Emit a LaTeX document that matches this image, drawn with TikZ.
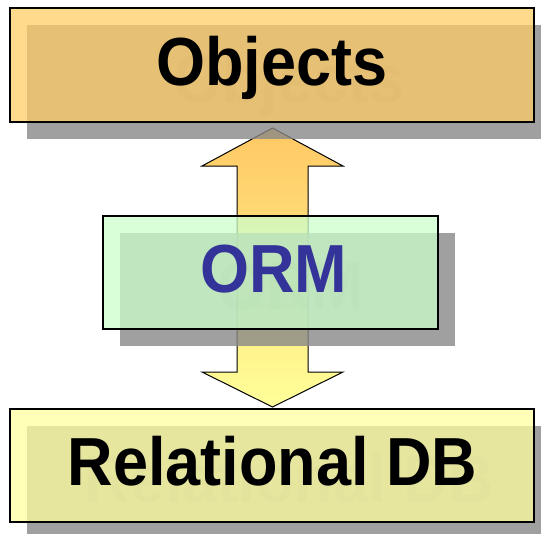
\documentclass[tikz,border=0pt]{standalone}
\usepackage{fontspec}
\setmainfont{Liberation Sans}
\usetikzlibrary{calc}

\definecolor{objfill}{RGB}{255,204,102}
\definecolor{ormfill}{RGB}{204,255,204}
\definecolor{dbfill}{RGB}{255,255,160}
\definecolor{ormtext}{RGB}{51,51,153}
\definecolor{shadowgray}{RGB}{136,136,136}
\definecolor{arrtop}{RGB}{255,200,100}
\definecolor{arrbot}{RGB}{255,255,153}

\newcommand{\tallword}[1]{\scalebox{1}[1.08]{#1}}

\pgfdeclarelayer{arrowlayer}
\pgfdeclarelayer{shadelayer}
\pgfsetlayers{arrowlayer,shadelayer,main}

\begin{document}
\begin{tikzpicture}[x=1pt, y=-1pt, blk/.style={rectangle, draw, line width=1.5pt, fill opacity=.75, inner sep=0pt, outer sep=0pt, minimum width=524pt, minimum height=113pt}, lbl/.style={anchor=base, inner sep=0pt, font=\fontsize{63}{68}\selectfont\bfseries}, shd/.style={fill=shadowgray, opacity=.8}]
	\useasboundingbox (0,0) rectangle (541,533);

	\node[blk, fill=objfill, minimum height=114pt] (obj) at (272,65) {};
	\node[lbl] (obj_label) at ($(obj.center)+(0,20.5)$) {\tallword{Objects}};
	\node[blk, fill=ormfill, minimum width=335pt] (orm) at (270.5,272.5) {};
	\node[lbl, text=ormtext] (orm_label) at ($(orm.center)+(3,19.5)$) {\tallword{ORM}};
	\node[blk, fill=dbfill] (rdb) at (272,465.5) {};
	\node[lbl] (rdb_label) at ($(rdb.center)+(0.5,19.5)$) {\tallword{Relational DB}};

	% shadows under the boxes
	\begin{pgfonlayer}{shadelayer}
		\foreach \b/\txt/\dx in {obj/Objects/0, orm/ORM/3, rdb/Relational DB/0.5} {
			\fill[shd] ($(\b.north west)+(17,17)$) rectangle ($(\b.south east)+(17,17)$);
			\node[lbl, text=black, opacity=.07] at ($(\b.center)+(\dx+17,37)$) {\tallword{\txt}};
		}
	\end{pgfonlayer}

	% two-way arrow between objects and database
	\begin{pgfonlayer}{arrowlayer}
		\coordinate (up) at ($(obj.south)+(0.5,6)$);
		\coordinate (dn) at ($(rdb.north)+(0.5,-2)$);
		\draw[line width=1pt, top color=arrtop, bottom color=arrbot] (up) -- ++(70.5,38) -- ++(-35,0) -- ($(dn)+(35.5,-35)$) -- ++(35,0) -- (dn) -- ++(-70.5,-35) -- ++(35,0) -- ($(up)+(-35.5,38)$) -- ++(-35,0) -- cycle;
	\end{pgfonlayer}
\end{tikzpicture}
\end{document}
